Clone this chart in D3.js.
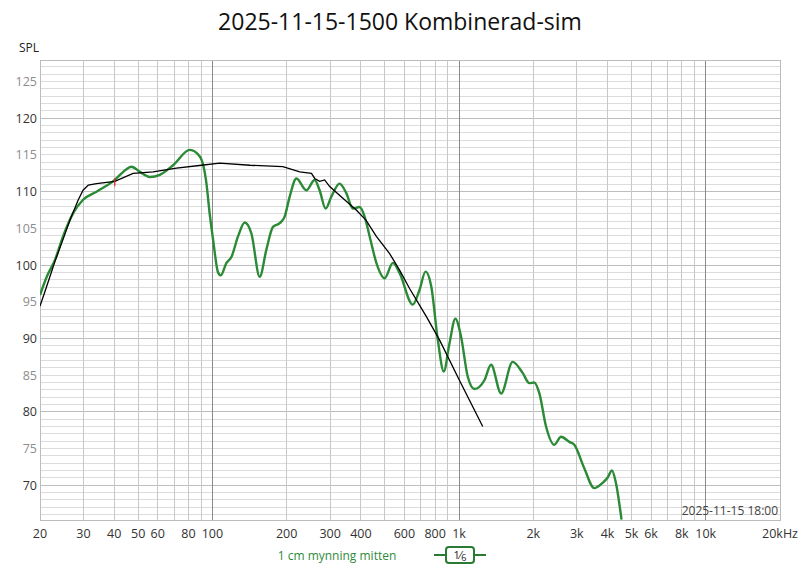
<!DOCTYPE html>
<html><head><meta charset="utf-8">
<script src="https://cdn.jsdelivr.net/npm/d3@7"></script>
<style>body{margin:0;background:#fff}svg{display:block}text{font-family:"Open Sans","Noto Sans",sans-serif}</style>
</head><body><svg id="c" width="800" height="567"></svg>
<script>
const title = "2025-11-15-1500 Kombinerad-sim";
const measFreq = [20,21.3,23.0,24.8,27.3,29.9,33.9,40.2,43.5,47.0,50.8,55.8,61.2,69.3,81.0,88.9,94.6,97.4,100.6,105.4,108.1,114.0,119.4,127.0,135.2,143.9,155.5,165.5,176.0,187.4,196.3,205.6,219,240.4,259.6,272,287.7,303.4,327.8,349,371,395,414,434,462,499,539,574,649,691,731,771,820,867,914,966,1019,1084,1154,1267,1348,1480,1649,1810,1927,2018,2116,2252,2432,2590,2798,2931,3218,3532,3816,3997,4166,4324,4556];
const measDb = [95.9,98.4,100.7,103.9,107.1,108.9,110.0,111.6,112.7,113.4,112.7,112.0,112.3,113.6,115.7,114.8,111.1,107.1,103.5,99.0,98.6,100.3,101.1,103.9,105.8,104.3,98.4,102.1,105.2,105.7,106.6,109.3,111.8,110.2,111.6,110.2,107.7,109.3,111.1,109.8,107.7,107.9,106.6,103.9,100.3,98.2,100.3,98.9,94.6,96.6,99.1,97.1,89.8,85.5,89.3,92.7,90.2,84.8,83.1,84.3,86.4,82.5,86.8,85.3,83.9,84.0,82.5,78.0,75.5,76.6,75.9,75.5,72.3,69.6,70.3,71.0,72.0,70.3,65.3];
const simFreq = [20,20.95,23.0,24.8,26.5,28.6,29.9,31.4,33.9,40.2,47.7,57.5,71.5,90.3,107,142,193,226,252,260,272,285,299,338,383,420,462,522,574,630,736,833,1003,1247];
const simDb = [94.4,96.4,100.5,103.5,106.2,108.9,110.2,110.9,111.1,111.4,112.5,112.7,113.2,113.6,113.9,113.6,113.4,112.7,112.5,111.8,111.4,111.6,110.7,109.1,107.5,106.1,103.9,101.6,99.3,96.8,93.0,89.8,84.3,78.0];
const markFreq = [40.2];
const markDb = [111.3];
const gridFreqs = [20,30,40,50,60,70,80,90,100,200,300,400,500,600,700,800,900,1000,2000,3000,4000,5000,6000,7000,8000,9000,10000,20000];
const decadeFreqs = [100,1000,10000];
const xTickVals = [20,30,40,50,60,80,100,200,300,400,600,800,1000,2000,3000,4000,5000,6000,8000,10000,20000];
const xTickLabels = ["20","30","40","50","60","80","100","200","300","400","600","800","1k","2k","3k","4k","5k","6k","8k","10k","20kHz"];
const yTickVals = [70,75,80,85,90,95,100,105,110,115,120,125];
const yGridVals = d3.range(66,128,1);
const legendLabel = "1 cm mynning mitten";
const stampLabel = "2025-11-15 18:00";

const svg = d3.select("#c");
const L=40,R=780,T=60.7,B=520;
const x = d3.scaleLog().domain([20,20000]).range([L,R]);
const y = d3.scaleLinear().domain([65.25,127.85]).range([B,T]);

svg.append("text").attr("x",400).attr("y",30).attr("text-anchor","middle")
  .attr("font-size",23).attr("fill","#111").text(title);
svg.append("text").attr("x",19).attr("y",52).attr("font-size",12).attr("fill","#222").text("SPL");

const g = svg.append("g");
g.selectAll(".hg").data(yGridVals).join("line")
  .attr("x1",L).attr("x2",R).attr("y1",d=>y(d)).attr("y2",d=>y(d))
  .attr("stroke",d=>d%10===0?"#bdbdbd":"#dcdcdc").attr("stroke-width",1).attr("shape-rendering","crispEdges");
g.selectAll(".vg").data(gridFreqs).join("line")
  .attr("x1",d=>x(d)).attr("x2",d=>x(d)).attr("y1",T).attr("y2",B)
  .attr("stroke",d=>decadeFreqs.includes(d)?"#8a8a8a":"#c8c8c8").attr("stroke-width",1).attr("shape-rendering","crispEdges");
g.append("rect").attr("x",L).attr("y",T).attr("width",R-L).attr("height",B-T)
  .attr("fill","none").attr("stroke","#bcbcbc").attr("shape-rendering","crispEdges");

svg.selectAll(".yl").data(yTickVals).join("text")
  .attr("x",37).attr("y",d=>y(d)+4.5).attr("text-anchor","end").attr("font-size",12.5)
  .attr("fill",d=>d%10===0?"#333":"#8c8c8c").text(d=>d);
svg.selectAll(".xl").data(xTickVals).join("text")
  .attr("x",d=>x(d)).attr("y",538).attr("text-anchor","middle").attr("font-size",12.5)
  .attr("fill","#333").text((d,i)=>xTickLabels[i]);

svg.append("text").attr("x",R-2).attr("y",515).attr("text-anchor","end").attr("font-size",12)
  .attr("fill","#444").text(stampLabel);

svg.append("clipPath").attr("id","cp").append("rect").attr("x",L).attr("y",T).attr("width",R-L).attr("height",B-T);
const pg = svg.append("g").attr("clip-path","url(#cp)");

const line = d3.line().x(d=>x(d[0])).y(d=>y(d[1])).curve(d3.curveMonotoneX);
pg.append("path").datum(measFreq.map((f,i)=>[f,measDb[i]]))
  .attr("d",line).attr("fill","none").attr("stroke","#2b8a36").attr("stroke-width",2.4);
const sline = d3.line().x(d=>x(d[0])).y(d=>y(d[1]));
pg.append("path").datum(simFreq.map((f,i)=>[f,simDb[i]]))
  .attr("d",sline).attr("fill","none").attr("stroke","#000").attr("stroke-width",1.3);
pg.selectAll(".mk").data(markFreq).join("line")
  .attr("x1",d=>x(d)).attr("x2",d=>x(d)).attr("y1",(d,i)=>y(markDb[i])-4).attr("y2",(d,i)=>y(markDb[i])+4)
  .attr("stroke","#d22").attr("stroke-width",1.2);

svg.append("text").attr("x",337).attr("y",560).attr("text-anchor","middle").attr("font-size",12)
  .attr("fill","#2e8b3a").text(legendLabel);
svg.append("line").attr("x1",434).attr("x2",486).attr("y1",555).attr("y2",555).attr("stroke","#2b7a33").attr("stroke-width",2.2);
svg.append("rect").attr("x",446).attr("y",547).attr("width",28).attr("height",16).attr("rx",3)
  .attr("fill","#fff").attr("stroke","#2b7a33").attr("stroke-width",2);
const ft = svg.append("text").attr("x",460).attr("y",559).attr("text-anchor","middle").attr("font-size",11).attr("fill","#222");
ft.append("tspan").text("1");
ft.append("tspan").text("⁄");
ft.append("tspan").attr("font-size",9).attr("dy",2).text("6");
</script></body></html>
